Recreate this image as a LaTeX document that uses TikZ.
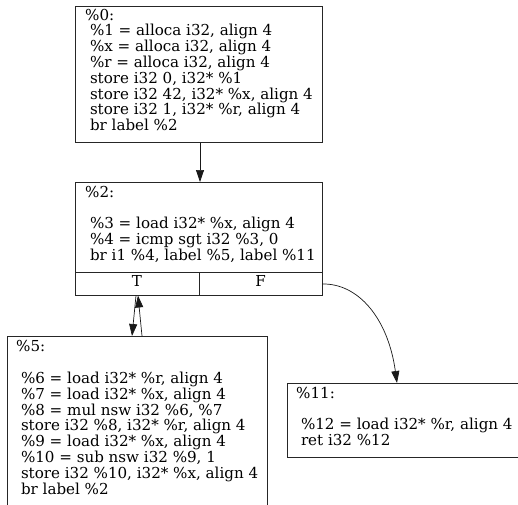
\documentclass[tikz,border=0pt]{standalone}
\usepackage{fontspec}
\setmainfont{DejaVu Serif}
\usetikzlibrary{arrows.meta,calc}
\newcommand{\ind}{\hspace*{4.8pt}}
\tikzset{
  blk/.style={draw=black!85,line width=0.8pt,rectangle,inner sep=0pt,anchor=north west},
  code/.style={anchor=base west,inner sep=0pt,align=left,font=\fontsize{15.1}{15.8}\selectfont},
  port/.style={inner sep=0pt,anchor=base,font=\fontsize{15.1}{15.8}\selectfont},
  edge/.style={draw=black!90,line width=0.7pt,-{Triangle[length=12pt,width=8pt]}}
}
\begin{document}
\begin{tikzpicture}[x=1pt,y=-1pt]
\clip (0,0) rectangle (518,504);
\fill[white] (0,0) rectangle (518,504);
% boxes
\node[blk,minimum width=247pt,minimum height=136pt] (b0) at (75,6) {};
\node[blk,minimum width=247pt,minimum height=113pt] (b2) at (75,182) {};
\node[blk,minimum width=260pt,minimum height=180pt] (b5) at (7,336) {};
\node[blk,minimum width=240pt,minimum height=74pt] (b11) at (287,383) {};
% record dividers of %2
\draw[black!85,line width=0.8pt] ($(b2.south west)+(0,-23)$) coordinate (dl) -- ($(b2.south east)+(0,-23)$) coordinate (dr);
\draw[black!85,line width=0.8pt] ($(b2.south west)+(124,0)$) coordinate (db) -- ($(b2.south west)+(124,-23)$) coordinate (dt);
% texts (anchored at the baseline of the last line)
\node[code] (t0) at (85,130.6) {\%0:\\
\ind\%1 = alloca i32, align 4\\
\ind\%x = alloca i32, align 4\\
\ind\%r = alloca i32, align 4\\
\ind store i32 0, i32* \%1\\
\ind store i32 42, i32* \%x, align 4\\
\ind store i32 1, i32* \%r, align 4\\
\ind br label \%2};
\node[code] (t2) at (85,260.5) {\%2:\\
\mbox{}\\
\ind\%3 = load i32* \%x, align 4\\
\ind\%4 = icmp sgt i32 \%3, 0\\
\ind br i1 \%4, label \%5, label \%11};
\node[port] (pT) at (137,286.5) {T};
\node[port] (pF) at (260.5,286.5) {F};
\node[code] (t5) at (16,494) {\%5:\\
\mbox{}\\
\ind\%6 = load i32* \%r, align 4\\
\ind\%7 = load i32* \%x, align 4\\
\ind\%8 = mul nsw i32 \%6, \%7\\
\ind store i32 \%8, i32* \%r, align 4\\
\ind\%9 = load i32* \%x, align 4\\
\ind\%10 = sub nsw i32 \%9, 1\\
\ind store i32 \%10, i32* \%x, align 4\\
\ind br label \%2};
\node[code] (t11) at (296,445.7) {\%11:\\
\mbox{}\\
\ind\%12 = load i32* \%r, align 4\\
\ind ret i32 \%12};
% port coordinates
\coordinate (tdown) at (136,295.5);
\coordinate (tup) at (138,295.5);
\coordinate (fout) at (322,284);
\coordinate (in5a) at (132,336);
\coordinate (out5) at (142,336);
\coordinate (in11) at (397,383);
% edges
\draw[edge] (b0.south -| 200,0) -- (b2.north -| 200,0);
\draw[edge] (tdown) -- (in5a);
\draw[edge] (out5) -- (tup);
\draw[edge] (fout) .. controls (358,283) and (388,318) .. (in11);
\end{tikzpicture}
\end{document}
